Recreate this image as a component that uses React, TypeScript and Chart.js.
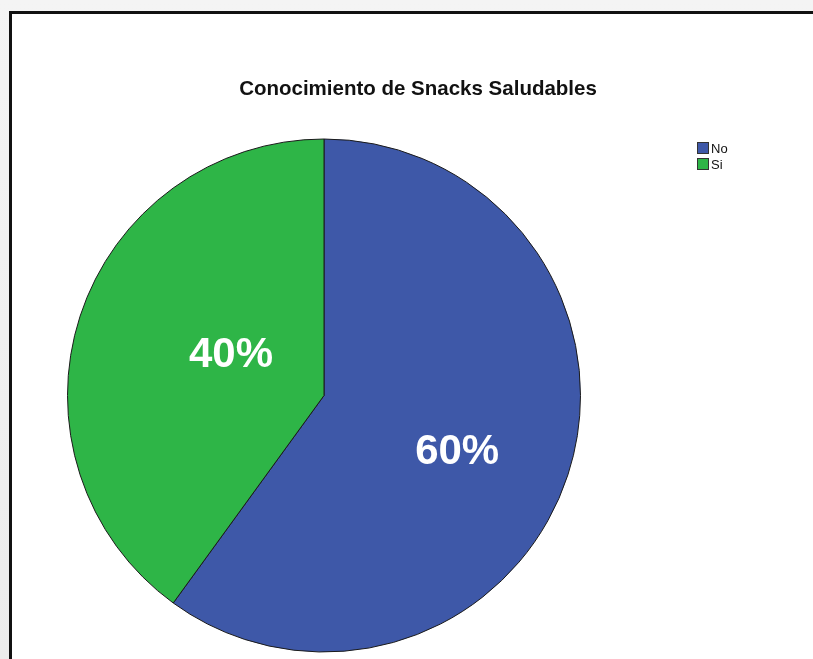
import React, { useEffect, useRef } from "react";
import { Chart, registerables } from "chart.js";

Chart.register(...registerables);

const TITLE = "Conocimiento de Snacks Saludables";
const CATEGORIES = ["No", "Si"];
const VALUES = [60, 40];
const COLORS = ["#3e58a8", "#2eb547"];
const LABEL_RADIUS = [0.56, 0.4];
const LABEL_ANGLE_SHIFT = [4, 7];

const overlayPlugin = {
  id: "spssOverlay",
  afterDraw(chart: any) {
    const ctx = chart.ctx;
    const area = chart.chartArea;
    ctx.save();
    // title
    ctx.fillStyle = "#111";
    ctx.font = "bold 20.5px 'Liberation Sans', Arial, sans-serif";
    ctx.textAlign = "center";
    ctx.textBaseline = "middle";
    ctx.fillText(TITLE, area.right - 163, area.top - 49);

    // legend
    const labels = chart.data.labels as string[];
    const bg = chart.data.datasets[0].backgroundColor as string[];
    const lx = area.right + 116;
    let ly = area.top + 4;
    ctx.font = "13px 'Liberation Sans', Arial, sans-serif";
    ctx.textAlign = "left";
    labels.forEach((lab, i) => {
      ctx.fillStyle = bg[i];
      ctx.fillRect(lx, ly, 12, 12);
      ctx.strokeStyle = "#333";
      ctx.lineWidth = 1;
      ctx.strokeRect(lx + 0.5, ly + 0.5, 11, 11);
      ctx.fillStyle = "#111";
      ctx.fillText(lab, lx + 14, ly + 7);
      ly += 16;
    });

    // percent labels
    const meta = chart.getDatasetMeta(0);
    const data = chart.data.datasets[0].data as number[];
    const total = data.reduce((a, b) => a + b, 0);
    ctx.fillStyle = "#ffffff";
    ctx.font = "bold 42px 'Liberation Sans', Arial, sans-serif";
    ctx.textAlign = "center";
    ctx.textBaseline = "middle";
    meta.data.forEach((arc: any, i: number) => {
      const mid = (arc.startAngle + arc.endAngle) / 2 + (LABEL_ANGLE_SHIFT[i] * Math.PI) / 180;
      const r = arc.outerRadius * LABEL_RADIUS[i];
      const x = arc.x + Math.cos(mid) * r;
      const y = arc.y + Math.sin(mid) * r + 3;
      ctx.fillText(Math.round((data[i] / total) * 100) + "%", x, y);
    });
    ctx.restore();
  },
};

export default function App() {
  const ref = useRef<HTMLCanvasElement>(null);
  useEffect(() => {
    if (!ref.current) return;
    const chart = new Chart(ref.current, {
      type: "pie",
      data: {
        labels: CATEGORIES,
        datasets: [
          {
            data: VALUES,
            backgroundColor: COLORS,
            borderColor: "#1a1a1a",
            borderWidth: 1,
          },
        ],
      },
      options: {
        animation: false,
        responsive: false,
        layout: { padding: { left: 67, top: 138, right: 232, bottom: 6 } },
        plugins: {
          legend: { display: false },
          title: { display: false },
          tooltip: { enabled: false },
        },
      },
      plugins: [overlayPlugin],
    });
    return () => chart.destroy();
  }, []);

  return (
    <div
      style={{
        position: "fixed",
        left: 0,
        top: 0,
        width: 813,
        height: 659,
        background: "linear-gradient(#f4f4f4, #ececec)",
        overflow: "hidden",
      }}
    >
      <div
        style={{
          position: "absolute",
          left: 9,
          top: 11,
          width: 820,
          height: 660,
          background: "#fff",
          borderTop: "3px solid #111",
          borderLeft: "3px solid #111",
          boxSizing: "border-box",
        }}
      />
      <canvas
        ref={ref}
        width={813}
        height={659}
        style={{ position: "absolute", left: 0, top: 0, width: 813, height: 659 }}
      />
    </div>
  );
}
